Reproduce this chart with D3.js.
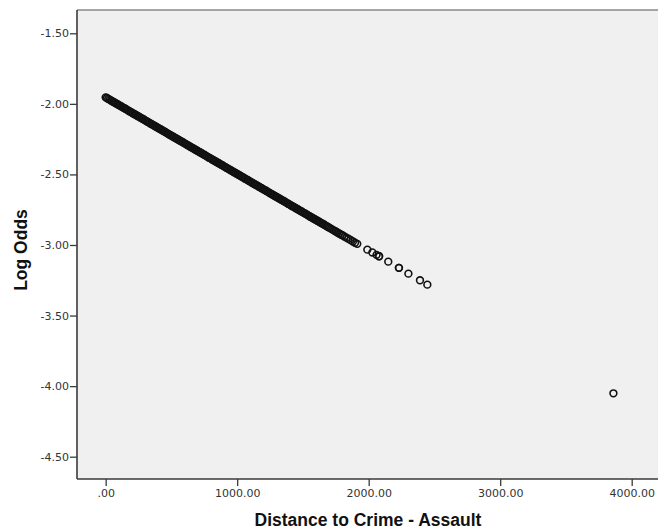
<!DOCTYPE html>
<html>
<head>
<meta charset="utf-8">
<script src="https://cdn.jsdelivr.net/npm/d3@7"></script>
<style>
  html, body { margin: 0; padding: 0; background: #ffffff; }
  svg { display: block; }
</style>
</head>
<body>
<div id="chart"></div>
<script>
// Distance to nearest assault (x) and the model's predicted log odds (y)
const distance = [
  0, 10, 20, 30, 40, 50, 60, 70, 80, 90,
  100, 110, 120, 130, 140, 150, 160, 170, 180, 190,
  200, 210, 220, 230, 240, 250, 260, 270, 280, 290,
  300, 310, 320, 330, 340, 350, 360, 370, 380, 390,
  400, 410, 420, 430, 440, 450, 460, 470, 480, 490,
  500, 510, 520, 530, 540, 550, 560, 570, 580, 590,
  600, 610, 620, 630, 640, 650, 660, 670, 680, 690,
  700, 710, 720, 730, 740, 750, 760, 770, 780, 790,
  800, 810, 820, 830, 840, 850, 860, 870, 880, 890,
  900, 910, 920, 930, 940, 950, 960, 970, 980, 990,
  1000, 1010, 1020, 1030, 1040, 1050, 1060, 1070, 1080, 1090,
  1100, 1110, 1120, 1130, 1140, 1150, 1160, 1170, 1180, 1190,
  1200, 1210, 1220, 1230, 1240, 1250, 1260, 1270, 1280, 1290,
  1300, 1310, 1320, 1330, 1340, 1350, 1360, 1370, 1380, 1390,
  1400, 1410, 1420, 1430, 1440, 1450, 1460, 1470, 1480, 1490,
  1500, 1510, 1520, 1530, 1540, 1550, 1560, 1570, 1580, 1590,
  1600, 1610, 1620, 1630, 1640, 1650, 1660, 1670, 1680, 1690,
  1700, 1712, 1725, 1738, 1750, 1762, 1775, 1788,
  1800, 1815, 1830, 1845, 1862, 1880, 1896, 1913,
  1990, 2028, 2060, 2079, 2079, 2149, 2230, 2230, 2302, 2390, 2446,
  3861
];
const logOdds = [
  -1.954, -1.959, -1.965, -1.970, -1.976, -1.981, -1.987, -1.992, -1.997, -2.003,
  -2.008, -2.014, -2.019, -2.025, -2.030, -2.035, -2.041, -2.046, -2.052, -2.057,
  -2.063, -2.068, -2.073, -2.079, -2.084, -2.090, -2.095, -2.101, -2.106, -2.111,
  -2.117, -2.122, -2.128, -2.133, -2.139, -2.144, -2.149, -2.155, -2.160, -2.166,
  -2.171, -2.177, -2.182, -2.187, -2.193, -2.198, -2.204, -2.209, -2.215, -2.220,
  -2.226, -2.231, -2.236, -2.242, -2.247, -2.253, -2.258, -2.264, -2.269, -2.274,
  -2.280, -2.285, -2.291, -2.296, -2.302, -2.307, -2.312, -2.318, -2.323, -2.329,
  -2.334, -2.340, -2.345, -2.350, -2.356, -2.361, -2.367, -2.372, -2.378, -2.383,
  -2.388, -2.394, -2.399, -2.405, -2.410, -2.416, -2.421, -2.426, -2.432, -2.437,
  -2.443, -2.448, -2.454, -2.459, -2.464, -2.470, -2.475, -2.481, -2.486, -2.492,
  -2.497, -2.502, -2.508, -2.513, -2.519, -2.524, -2.530, -2.535, -2.540, -2.546,
  -2.551, -2.557, -2.562, -2.568, -2.573, -2.578, -2.584, -2.589, -2.595, -2.600,
  -2.606, -2.611, -2.616, -2.622, -2.627, -2.633, -2.638, -2.644, -2.649, -2.654,
  -2.660, -2.665, -2.671, -2.676, -2.682, -2.687, -2.692, -2.698, -2.703, -2.709,
  -2.714, -2.720, -2.725, -2.730, -2.736, -2.741, -2.747, -2.752, -2.758, -2.763,
  -2.769, -2.774, -2.779, -2.785, -2.790, -2.796, -2.801, -2.807, -2.812, -2.817,
  -2.823, -2.828, -2.834, -2.839, -2.845, -2.850, -2.855, -2.861, -2.866, -2.872,
  -2.877, -2.884, -2.891, -2.898, -2.904, -2.911, -2.918, -2.925,
  -2.931, -2.940, -2.948, -2.956, -2.965, -2.975, -2.984, -2.992,
  -3.033, -3.053, -3.070, -3.080, -3.080, -3.118, -3.162, -3.162, -3.203, -3.250, -3.281,
  -4.051
];

// Axis ticks
const xTicks = [0, 1000, 2000, 3000, 4000];
const yTicks = [-1.5, -2.0, -2.5, -3.0, -3.5, -4.0, -4.5];
const xDomain = [-218, 4200];
const yDomain = [-4.658, -1.335];

const xTitle = "Distance to Crime - Assault";
const yTitle = "Log Odds";

const width = 658, height = 531;
const plot = { left: 77, right: 658, top: 10, bottom: 479 };

const svg = d3.select("#chart").append("svg")
  .attr("width", width)
  .attr("height", height);

const x = d3.scaleLinear().domain(xDomain).range([plot.left, plot.right]);
const y = d3.scaleLinear().domain(yDomain).range([plot.bottom, plot.top]);

// SPSS-style number labels: ".00", "1000.00", "-1.50"
const fmt = v => v.toFixed(2).replace(/^(-?)0\./, "$1.");

// Plot background
svg.append("rect")
  .attr("x", plot.left)
  .attr("y", plot.top)
  .attr("width", plot.right - plot.left)
  .attr("height", plot.bottom - plot.top)
  .attr("fill", "#f0f0f0");

// Top frame line
svg.append("line")
  .attr("x1", plot.left).attr("x2", plot.right)
  .attr("y1", plot.top).attr("y2", plot.top)
  .attr("stroke", "#8a8a8a").attr("stroke-width", 1.6);

// Points
const pts = distance.map((d, i) => ({ d, v: logOdds[i] }));
svg.append("g")
  .selectAll("circle")
  .data(pts)
  .join("circle")
  .attr("cx", p => x(p.d))
  .attr("cy", p => y(p.v))
  .attr("r", 3.4)
  .attr("fill", "none")
  .attr("stroke", "#111")
  .attr("stroke-width", 1.6);

// Axes
const xAxis = d3.axisBottom(x).tickValues(xTicks).tickFormat(fmt).tickSize(7).tickPadding(3).tickSizeOuter(0);
const yAxis = d3.axisLeft(y).tickValues(yTicks).tickFormat(fmt).tickSize(7).tickPadding(1).tickSizeOuter(0);

const gx = svg.append("g").attr("transform", `translate(0,${plot.bottom})`).call(xAxis);
const gy = svg.append("g").attr("transform", `translate(${plot.left},0)`).call(yAxis);

[gx, gy].forEach(g => {
  g.select(".domain").attr("stroke", "#3a3a3a").attr("stroke-width", 1.6);
  g.selectAll(".tick line").attr("stroke", "#3a3a3a").attr("stroke-width", 1.3);
  g.selectAll(".tick text")
    .attr("fill", "#333")
    .style("font-family", "'DejaVu Sans', sans-serif")
    .style("font-size", "11px");
});
// the x-axis line spans the full plot width
gx.select(".domain").attr("d", `M${plot.left},0H${plot.right}`);
gy.select(".domain").attr("d", `M0,${plot.top}V${plot.bottom}`);

// Axis titles
svg.append("text")
  .attr("x", 368)
  .attr("y", 525.5)
  .attr("text-anchor", "middle")
  .style("font-family", "'Liberation Sans', Arial, sans-serif")
  .style("font-weight", "bold")
  .style("font-size", "17.5px")
  .attr("fill", "#111")
  .text(xTitle);

svg.append("text")
  .attr("transform", "translate(26.5,250) rotate(-90)")
  .attr("text-anchor", "middle")
  .style("font-family", "'Liberation Sans', Arial, sans-serif")
  .style("font-weight", "bold")
  .style("font-size", "17.5px")
  .attr("fill", "#111")
  .text(yTitle);
</script>
</body>
</html>
